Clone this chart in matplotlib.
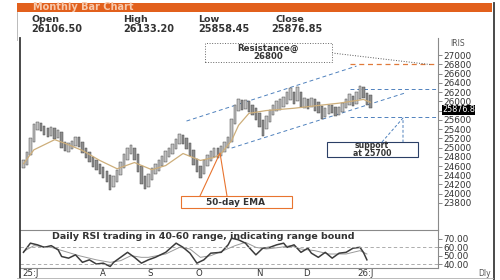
import matplotlib
matplotlib.use('Agg')
import matplotlib.pyplot as plt
import matplotlib.transforms as mtransforms
from matplotlib.patches import Rectangle
from matplotlib.lines import Line2D
import numpy as np

# daily bars (high / low / close), July 2025 .. early Jan 2026
highs = [24720, 24900, 25200, 25500, 25560, 25520, 25460, 25420, 25450, 25420,
         25380, 25330, 25120, 25090, 25150, 25230, 25220, 25130, 25000, 24900,
         24800, 24720, 24650, 24580, 24500, 24400, 24380, 24520, 24680, 24850,
         24980, 25050, 25000, 24850, 24600, 24380, 24420, 24560, 24640, 24730,
         24810, 24920, 25000, 25080, 25180, 25300, 25280, 25200, 25100, 24950,
         24760, 24600, 24720, 24830, 24930, 24990, 24980, 25030, 25120, 25220,
         25620, 25920, 26050, 26020, 26030, 26000, 25920, 25850, 25750, 25600,
         25680, 25820, 25930, 26000, 26040, 26090, 26200, 26280, 26200, 26300,
         26200, 26080, 26050, 26080, 26050, 25980, 25900, 25860, 25920, 25930,
         25880, 25880, 25970, 26060, 26150, 26120, 26200, 26330, 26300, 26180,
         26133.20]
lows = [24560, 24620, 24830, 25120, 25380, 25350, 25280, 25230, 25260, 25180,
        25200, 24980, 24920, 24900, 24960, 25040, 25020, 24880, 24770, 24680,
        24580, 24520, 24430, 24350, 24260, 24080, 24150, 24250, 24400, 24560,
        24730, 24850, 24720, 24480, 24220, 24100, 24150, 24300, 24420, 24500,
        24600, 24680, 24800, 24850, 24960, 25080, 25080, 24970, 24820, 24620,
        24460, 24350, 24420, 24600, 24700, 24790, 24780, 24820, 24900, 24990,
        25120, 25500, 25800, 25820, 25830, 25760, 25700, 25600, 25450, 25250,
        25400, 25560, 25700, 25780, 25820, 25880, 25950, 26020, 25950, 26000,
        25880, 25860, 25840, 25880, 25800, 25750, 25620, 25650, 25720, 25740,
        25680, 25700, 25760, 25850, 25920, 25900, 25950, 26050, 26080, 25920,
        25858.45]
closes = [24650, 24850, 25150, 25450, 25480, 25400, 25350, 25300, 25380, 25250,
          25300, 25050, 24980, 25000, 25080, 25150, 25100, 24950, 24850, 24750,
          24650, 24600, 24500, 24450, 24350, 24200, 24300, 24450, 24600, 24780,
          24900, 24950, 24800, 24550, 24300, 24200, 24350, 24480, 24550, 24650,
          24720, 24850, 24900, 25000, 25100, 25200, 25150, 25050, 24900, 24700,
          24550, 24450, 24650, 24750, 24850, 24900, 24870, 24950, 25050, 25150,
          25550, 25850, 25950, 25900, 25950, 25850, 25800, 25700, 25550, 25450,
          25600, 25750, 25850, 25900, 25950, 26000, 26100, 26150, 26050, 26180,
          25950, 25980, 25930, 26000, 25900, 25850, 25700, 25780, 25850, 25820,
          25750, 25800, 25900, 25980, 26050, 26000, 26100, 26250, 26150, 26090,
          25876.85]
last_open = 26106.50

# 50-day EMA
ema_x = [0, 3, 9, 12, 17, 22, 27, 32, 37, 41, 46, 51, 55, 57, 60, 62, 65, 70, 78, 85, 91, 98, 100]
ema_val = [24650, 24950, 25170, 25090, 24935, 24720, 24540, 24675, 24520, 24610, 24870, 24720,
           24785, 24870, 25150, 25480, 25740, 25800, 25850, 25910, 25960, 26040, 25980]

# trend channel and levels
upper_x = [47, 96]
upper_y = [25573, 26762]
lower_x = [60, 110]
lower_y = [24989, 26180]
resistance = 26800
range_top = 26270
support = 25650

# daily RSI and its average
rsi_x = [0, 2, 4, 6, 8, 10, 11, 13, 15, 17, 19, 21, 23, 25, 26, 28, 30, 32, 34, 36, 38, 41, 44,
         46, 48, 50, 52, 54, 57, 59, 60, 62, 64, 65, 67, 69, 71, 73, 75, 76, 78, 80, 82, 83,
         85, 87, 89, 91, 93, 95, 97, 98, 99]
rsi_val = [54, 65, 63, 60, 62, 57, 49, 47, 51, 42, 45, 40, 41, 37, 42, 48, 54, 48, 41, 45, 48, 54, 65,
           60, 53, 41, 45, 53, 54, 63, 71, 69, 65, 60, 51, 59, 60, 63, 65, 60, 63, 54, 59, 53,
           48, 54, 47, 53, 54, 59, 60, 54, 45]
sig_x = [0, 3, 8, 12, 16, 21, 25, 28, 31, 34, 36, 41, 45, 48, 51, 54, 57, 61, 64, 67, 70, 74, 77,
         80, 84, 88, 93, 97, 99]
sig_val = [55, 62, 60, 55, 50, 45, 42, 44, 50, 48, 48, 52, 60, 58, 48, 50, 55, 62, 66, 60, 58, 60, 62,
           58, 56, 52, 52, 56, 52]

month_pos = [2, 23, 36.5, 50.5, 68, 81.5, 98.5]
month_lbl = ['25:J', 'A', 'S', 'O', 'N', 'D', '26:J']
price_ticks = list(range(23800, 27001, 200))
rsi_ticks = [40, 50, 60, 70]

blue = '#4F81BD'
orange = '#E2601C'
txt = '#333333'

W, H = 500.0, 280.0
fig = plt.figure(figsize=(5, 2.8), dpi=100)


def fx(px):
    return px / W


def fy(py):
    return 1 - py / H


def fig_line(xs, ys, **kw):
    fig.add_artist(Line2D([fx(v) for v in xs], [fy(v) for v in ys],
                          transform=fig.transFigure, **kw))


def fig_box(x0, y0, x1, y1, **kw):
    fig.add_artist(Rectangle((fx(x0), fy(y1)), (x1 - x0) / W, (y1 - y0) / H,
                             transform=fig.transFigure, **kw))


ax = fig.add_axes([fx(20), fy(230), (438 - 20) / W, (230 - 38) / H])
ax2 = fig.add_axes([fx(20), fy(268), (438 - 20) / W, (268 - 230) / H])

# price bars
idx = np.arange(len(closes))
cols = ['#c2c2c2'] + ['#c2c2c2' if closes[i] >= closes[i - 1] else '#8e8e8e' for i in range(1, len(closes))]
ax.bar(idx, np.array(highs) - np.array(lows), bottom=lows, width=0.7,
       color=cols, edgecolor='#4a4a4a', linewidth=0.35, zorder=3)
ax.plot(ema_x, ema_val, color='#CDAE7A', lw=0.9, zorder=4)

dash = (0, (4, 3))
ax.plot(upper_x, upper_y, color=blue, lw=0.7, ls=dash, zorder=2)
ax.plot(lower_x, lower_y, color=blue, lw=0.7, ls=dash, zorder=2)
ax.plot([94, 119.5], [range_top, range_top], color=blue, lw=0.7, ls=dash)
ax.plot([94, 119.5], [support, support], color=blue, lw=0.7, ls=dash)
ax.plot([94, 119.5], [resistance, resistance], color='#E07A3A', lw=0.9, ls=dash)

ax.set_xlim(-1, 119.5)
ax.set_ylim(23215, 27370)
for s in ['top', 'left', 'bottom']:
    ax.spines[s].set_visible(False)
ax.spines['right'].set_color('#8a8a8a')
ax.spines['right'].set_linewidth(0.8)
ax.yaxis.tick_right()
ax.set_yticks(price_ticks)
# the 25800 label sits under the last-price flag
ax.set_yticklabels(['' if v == 25800 else str(v) for v in price_ticks])
ax.tick_params(axis='y', length=3, width=0.6, color='#777777', labelsize=6.4, pad=1, labelcolor=txt)
ax.set_xticks([])

# last price flag
tr = mtransforms.blended_transform_factory(ax.transAxes, ax.transData)
ax.text(1.01, closes[-1] - 60, f'{closes[-1]:.2f}'[:-1], transform=tr, color='white', fontsize=5.8,
        va='center', ha='left', clip_on=False, zorder=10,
        bbox=dict(facecolor='black', edgecolor='none', pad=0.3))

# RSI panel
ax2.plot(sig_x, sig_val, color='#9a9a9a', lw=0.7)
ax2.plot(rsi_x, rsi_val, color='#3c3c3c', lw=1.1)
for lv in [40, 60]:
    ax2.axhline(lv, color='#a0a0a0', lw=0.6, ls=(0, (4, 3)))
ax2.set_xlim(-1, 119.5)
ax2.set_ylim(35.2, 80.8)
ax2.spines['left'].set_visible(False)
for s in ['top', 'bottom', 'right']:
    ax2.spines[s].set_color('#8a8a8a')
    ax2.spines[s].set_linewidth(0.8)
ax2.yaxis.tick_right()
ax2.set_yticks(rsi_ticks)
ax2.set_yticklabels([f'{v:.2f}' for v in rsi_ticks])
ax2.tick_params(axis='y', length=3, width=0.6, color='#777777', labelsize=6.4, pad=1, labelcolor=txt)
ax2.set_xticks(month_pos)
ax2.set_xticklabels(month_lbl)
ax2.tick_params(axis='x', length=0, labelsize=6.2, pad=1, labelcolor=txt)
ax2.text(0.077, 0.94, 'Daily RSI trading in 40-60 range, indicating range bound', transform=ax2.transAxes,
         fontsize=6.8, fontweight='bold', color=txt, va='top', ha='left')

# frame and header
fig_box(17, 3, 492, 11.5, facecolor=orange, edgecolor='none')
fig.text(fx(33), fy(7.5), 'Monthly Bar Chart', color='#F7C9AC', fontsize=7, fontweight='bold', va='center')
fig_line([17, 17], [11.5, 40], color='#b0b0b0', lw=0.6)
fig_line([19.8, 19.8], [38, 278], color='#3a3a3a', lw=1.3)
fig_line([493.5, 493.5], [3, 280], color='#3a3a3a', lw=1.3)
fig_line([17, 493], [278, 278], color='#b0b0b0', lw=0.6)

head_x = [31, 123, 198, 276]
head_lbl = ['Open', 'High', 'Low', 'Close']
head_val = [last_open, highs[-1], lows[-1], closes[-1]]
for hx, hl, hv in zip(head_x, head_lbl, head_val):
    fig.text(fx(hx), fy(19), hl, color=txt, fontsize=6.8, fontweight='bold', va='center')
    fig.text(fx(hx - 5 if hl == 'Close' else hx), fy(28.5), f'{hv:.2f}', color=txt, fontsize=7,
             fontweight='bold', va='center')
fig.text(fx(450), fy(43), 'IRIS', color='#555555', fontsize=5.5, va='center')
fig.text(fx(478), fy(273), 'Dly', color='#555555', fontsize=5.5, va='center')

# resistance call-out
fig_box(205, 43, 332, 62, facecolor='white', edgecolor='#666666', lw=0.7, ls=':', zorder=5)
fig.text(fx(268), fy(52.5), 'Resistance@\n26800', color=txt, fontsize=6.2, fontweight='bold',
         ha='center', va='center', linespacing=0.95, zorder=6)
fig_line([332, 430], [53, 64.5], color='#555555', lw=0.7, ls=':')

# EMA call-out
fig_box(181, 196, 292, 208, facecolor='white', edgecolor='#E8742F', lw=0.8, zorder=5)
fig_line([200, 220, 227], [196, 153, 196], color='#E8742F', lw=0.8, zorder=6)
fig.text(fx(236), fy(202.5), '50-day EMA', color=txt, fontsize=6.4, fontweight='bold', ha='center', va='center', zorder=6)

# support call-out
fig_box(327, 142, 418, 157, facecolor='white', edgecolor='#2b3f66', lw=0.8, zorder=5)
fig_line([382, 403, 403], [142, 118, 142], color=blue, lw=0.7, ls=(0, (3, 2)), zorder=6)
fig.text(fx(372), fy(149.5), 'support\nat 25700', color=txt, fontsize=5.6, fontweight='bold',
         ha='center', va='center', linespacing=0.9, zorder=6)

fig.savefig('out.png', dpi=100)
